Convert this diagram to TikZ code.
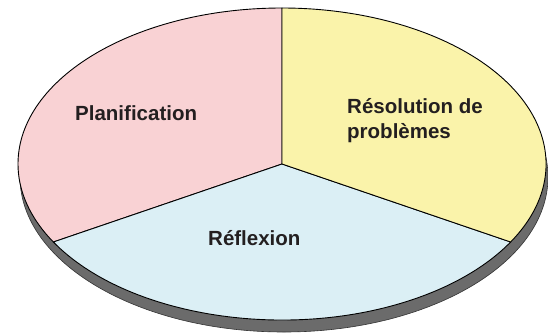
\documentclass[tikz,border=0pt]{standalone}
\usepackage{fontspec}
\setmainfont{Liberation Sans}
\definecolor{planpink}{HTML}{F9D2D4}
\definecolor{resoyellow}{HTML}{FAF3AA}
\definecolor{reflblue}{HTML}{DBEFF5}
\definecolor{sidegray}{HTML}{6B6B6B}
\definecolor{textdark}{HTML}{231F20}
\tikzset{
  piece/.style={draw=black, line width=0.9pt, line join=round},
  label/.style={inner sep=0pt, text=textdark, font=\fontsize{20.5}{25}\selectfont\bfseries, align=left}
}
\begin{document}
\begin{tikzpicture}[x=1pt,y=1pt]
\useasboundingbox (0,0) rectangle (548,333);

\fill[white] (0,0) rectangle (548,333);
\coordinate (c) at (282,169);

\filldraw[fill=sidegray, draw=black!80, line width=0.6pt] (284,156) ellipse [x radius=264pt, y radius=155pt];

\draw[piece, fill=planpink] (c) -- ++(90:264pt and 156pt) arc[start angle=90, end angle=210, x radius=264pt, y radius=156pt] -- cycle;
\draw[piece, fill=reflblue] (c) -- ++(210:264pt and 156pt) arc[start angle=210, end angle=330, x radius=264pt, y radius=156pt] -- cycle;
\draw[piece, fill=resoyellow] (c) -- ++(-30:264pt and 156pt) arc[start angle=-30, end angle=90, x radius=264pt, y radius=156pt] -- cycle;

\node[label, anchor=base west] (plan) at (75,213) {Planification};
\node[label, anchor=north west] (reso) at (347,235) {Résolution de\\problèmes};
\node[label, anchor=base west] (refl) at (208,88) {Réflexion};

\end{tikzpicture}
\end{document}
